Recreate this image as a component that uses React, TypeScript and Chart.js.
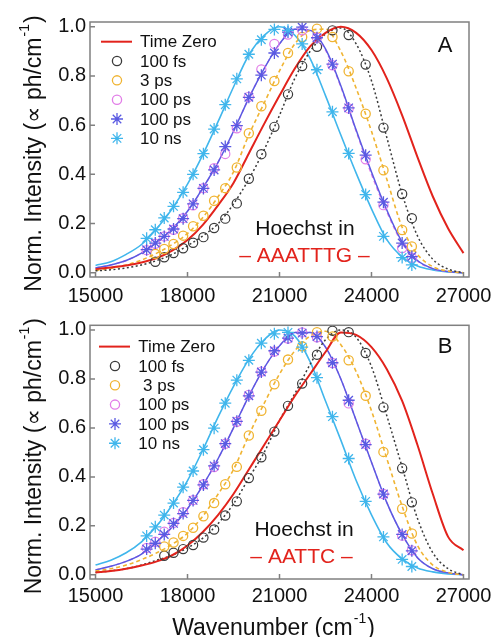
import React, { useEffect, useRef } from "react";
import { Chart, registerables } from "chart.js";

Chart.register(...registerables);

const FONT = "'Liberation Sans', Arial, 'DejaVu Sans', sans-serif";

// ---------- shared axes / categories ----------
const markerWavenumbers = [16667, 16949, 17241, 17544, 17857, 18182, 18519, 18868, 19231, 19608, 20000, 20408, 20833, 21277, 21739, 22222, 22727, 23256, 23810, 24390, 25000, 25316];
const fitWavenumbers = [15000, 15500, 16000, 16500, 17000, 17500, 18000, 18500, 19000, 19500, 20000, 20500, 21000, 21500, 22000, 22500, 23000, 23500, 24000, 24500, 25000, 25500, 26000, 26500, 27000];
const xTickValues = [15000, 18000, 21000, 24000, 27000];
const yTickValues = [0, 0.2, 0.4, 0.6, 0.8, 1.0];

const legendLabelsA = ["Time Zero", "100 fs", "3 ps", "100 ps", "100 ps", "10 ns"];
const legendLabelsB = ["Time Zero", "100 fs", " 3 ps", "100 ps", "100 ps", "10 ns"];

// ---------- panel A ----------
const timeZeroA = [0.015, 0.022, 0.03, 0.042, 0.06, 0.09, 0.133, 0.195, 0.275, 0.365, 0.485, 0.605, 0.72, 0.83, 0.92, 0.975, 1.0, 0.975, 0.905, 0.79, 0.64, 0.47, 0.31, 0.18, 0.08];
const fit100fsA = [0.008, 0.012, 0.02, 0.032, 0.05, 0.075, 0.11, 0.15, 0.2, 0.28, 0.38, 0.5, 0.64, 0.79, 0.9, 0.97, 0.995, 0.93, 0.78, 0.55, 0.32, 0.15, 0.055, 0.015, 0];
const fit3psA = [0.01, 0.018, 0.032, 0.052, 0.08, 0.115, 0.16, 0.225, 0.31, 0.41, 0.56, 0.69, 0.82, 0.93, 0.985, 0.99, 0.9, 0.75, 0.575, 0.38, 0.185, 0.075, 0.025, 0.007, 0];
const fit100psPinkA = [0.02, 0.032, 0.05, 0.08, 0.124, 0.177, 0.25, 0.343, 0.45, 0.573, 0.71, 0.83, 0.93, 0.99, 0.983, 0.905, 0.755, 0.575, 0.4, 0.248, 0.12, 0.048, 0.016, 0.005, 0];
const fit100psBlueA = [0.02, 0.032, 0.05, 0.08, 0.125, 0.178, 0.25, 0.345, 0.45, 0.575, 0.71, 0.83, 0.93, 0.99, 0.985, 0.91, 0.76, 0.58, 0.41, 0.255, 0.125, 0.05, 0.017, 0.005, 0];
const fit10nsA = [0.03, 0.045, 0.075, 0.115, 0.18, 0.26, 0.36, 0.48, 0.615, 0.755, 0.885, 0.965, 1.0, 0.965, 0.87, 0.72, 0.56, 0.405, 0.26, 0.135, 0.065, 0.028, 0.012, 0.004, 0];

const pts100fsA = [null, 0.045, 0.063, 0.08, 0.1, 0.122, 0.145, 0.182, 0.22, 0.282, 0.382, 0.482, 0.593, 0.725, 0.84, 0.918, 0.985, 0.966, 0.846, 0.59, 0.32, 0.222];
const pts3psA = [null, 0.077, 0.097, 0.117, 0.151, 0.189, 0.232, 0.293, 0.344, 0.428, 0.567, 0.677, 0.779, 0.893, 0.958, 0.992, 0.958, 0.819, 0.646, 0.417, 0.174, 0.107];
const pts100psPinkA = [0.092, 0.118, 0.148, 0.175, 0.222, 0.274, 0.344, 0.425, 0.483, 0.587, 0.715, 0.826, 0.93, 0.968, 0.985, 0.955, 0.843, 0.668, 0.461, 0.275, 0.101, 0.061];
const pts100psBlueA = [0.094, 0.121, 0.148, 0.178, 0.22, 0.28, 0.343, 0.418, 0.513, 0.598, 0.713, 0.803, 0.893, 0.978, 0.998, 0.955, 0.848, 0.67, 0.478, 0.287, 0.121, 0.066];
const pts10nsA = [0.14, 0.175, 0.223, 0.27, 0.327, 0.4, 0.484, 0.584, 0.683, 0.788, 0.888, 0.947, 0.989, 0.985, 0.93, 0.825, 0.654, 0.485, 0.318, 0.148, 0.062, 0.032];

// ---------- panel B ----------
const timeZeroB = [0.01, 0.016, 0.025, 0.038, 0.055, 0.08, 0.12, 0.175, 0.245, 0.33, 0.43, 0.53, 0.63, 0.73, 0.82, 0.91, 0.99, 0.98, 0.93, 0.84, 0.71, 0.53, 0.33, 0.155, 0.1];
const fit100fsB = [0.01, 0.016, 0.025, 0.04, 0.06, 0.08, 0.11, 0.15, 0.21, 0.29, 0.395, 0.5, 0.63, 0.74, 0.86, 0.96, 1.0, 0.97, 0.85, 0.65, 0.44, 0.23, 0.09, 0.025, 0];
const fit3psB = [0.015, 0.025, 0.04, 0.062, 0.09, 0.125, 0.17, 0.24, 0.33, 0.43, 0.57, 0.7, 0.82, 0.915, 0.975, 0.995, 0.94, 0.83, 0.67, 0.475, 0.28, 0.12, 0.04, 0.01, 0];
const fit100psPinkB = [0.02, 0.035, 0.055, 0.085, 0.135, 0.195, 0.27, 0.365, 0.475, 0.6, 0.73, 0.845, 0.935, 0.99, 0.99, 0.93, 0.8, 0.63, 0.46, 0.295, 0.165, 0.07, 0.025, 0.008, 0];
const fit100psBlueB = [0.02, 0.035, 0.055, 0.085, 0.135, 0.195, 0.27, 0.365, 0.475, 0.6, 0.73, 0.845, 0.935, 0.99, 0.99, 0.93, 0.8, 0.63, 0.46, 0.295, 0.165, 0.07, 0.025, 0.008, 0];
const fit10nsB = [0.04, 0.06, 0.09, 0.135, 0.2, 0.285, 0.385, 0.51, 0.645, 0.77, 0.88, 0.96, 1.0, 0.975, 0.87, 0.71, 0.55, 0.385, 0.245, 0.13, 0.065, 0.028, 0.012, 0.004, 0];

const pts100fsB = [null, null, 0.078, 0.09, 0.105, 0.122, 0.152, 0.185, 0.242, 0.3, 0.395, 0.48, 0.585, 0.69, 0.781, 0.899, 0.997, 0.991, 0.906, 0.684, 0.435, 0.296];
const pts3psB = [null, null, 0.116, 0.132, 0.159, 0.192, 0.239, 0.293, 0.37, 0.441, 0.569, 0.67, 0.778, 0.879, 0.933, 0.991, 0.973, 0.876, 0.731, 0.502, 0.27, 0.169];
const pts100psPinkB = [0.11, 0.135, 0.176, 0.212, 0.256, 0.305, 0.37, 0.44, 0.535, 0.625, 0.735, 0.83, 0.912, 0.965, 0.99, 0.97, 0.865, 0.7, 0.535, 0.33, 0.16, 0.1];
const pts100psBlueB = [0.105, 0.129, 0.165, 0.21, 0.25, 0.304, 0.367, 0.445, 0.536, 0.627, 0.731, 0.828, 0.915, 0.967, 0.987, 0.973, 0.866, 0.713, 0.532, 0.33, 0.165, 0.098];
const pts10nsB = [0.159, 0.196, 0.244, 0.293, 0.358, 0.424, 0.511, 0.599, 0.701, 0.795, 0.876, 0.946, 0.984, 0.99, 0.93, 0.805, 0.646, 0.475, 0.3, 0.155, 0.063, 0.034];

// ---------- styles ----------
const RED = "#e2231c";
const BLACK = "#3a3a3a";
const ORANGE = "#f0b432";
const PINK = "#e27ee8";
const BLUE = "#5a5ae2";
const CYAN = "#40b6ec";
const FRAME = "#808080";
const TEXT = "#111111";

const X_MIN = 14820;
const X_MAX = 27180;
const Y_MIN = -0.017;
const Y_MAX = 1.019;

function toPoints(xs: number[], ys: (number | null)[]) {
  const out: { x: number; y: number }[] = [];
  xs.forEach((x, i) => {
    const y = ys[i];
    if (y !== null && y !== undefined) out.push({ x, y });
  });
  return out;
}

function lineDs(ys: number[], color: string, width: number, dash: number[]) {
  return {
    data: toPoints(fitWavenumbers, ys),
    borderColor: color,
    borderWidth: width,
    borderDash: dash,
    pointRadius: 0,
    fill: false,
    cubicInterpolationMode: "monotone",
  };
}

function markerDs(ys: (number | null)[], color: string, style: string, radius: number, width: number) {
  return {
    data: toPoints(markerWavenumbers, ys),
    showLine: false,
    pointStyle: style,
    pointRadius: radius,
    pointBorderColor: color,
    pointBackgroundColor: "rgba(0,0,0,0)",
    pointBorderWidth: width,
    borderColor: color,
  };
}

type Annot = { text: string; x: number; y: number; color: string; size: number };

type PanelSpec = {
  height: number;
  padTop: number;
  xAxisHeight: number;
  xTickPad: number;
  legend: string[];
  legendRow0: number;
  legendSymX: number;
  legendTextX: number;
  annotations: Annot[];
  xTitle: boolean;
  series: {
    timeZero: number[];
    fit100fs: number[];
    fit3ps: number[];
    fitPink: number[];
    fitBlue: number[];
    fit10ns: number[];
    p100fs: (number | null)[];
    p3ps: (number | null)[];
    pPink: (number | null)[];
    pBlue: (number | null)[];
    p10ns: (number | null)[];
  };
};

function drawStar(ctx: CanvasRenderingContext2D, x: number, y: number, r: number) {
  ctx.beginPath();
  for (let k = 0; k < 4; k++) {
    const a = (k * Math.PI) / 4;
    ctx.moveTo(x - Math.cos(a) * r, y - Math.sin(a) * r);
    ctx.lineTo(x + Math.cos(a) * r, y + Math.sin(a) * r);
  }
  ctx.stroke();
}

function drawSupTitle(
  ctx: CanvasRenderingContext2D,
  cx: number,
  cy: number,
  rotate: boolean,
  main: string,
  sup: string,
  tail: string,
  size: number,
  supSize: number,
  raise: number
) {
  ctx.save();
  ctx.translate(cx, cy);
  if (rotate) ctx.rotate(-Math.PI / 2);
  ctx.fillStyle = TEXT;
  ctx.textBaseline = "alphabetic";
  ctx.textAlign = "left";
  const gap = 1;
  ctx.font = `${size}px ${FONT}`;
  const w1 = ctx.measureText(main).width;
  const w3 = ctx.measureText(tail).width;
  ctx.font = `${supSize}px ${FONT}`;
  const w2 = ctx.measureText(sup).width;
  let x = -(w1 + w2 + w3 + 2 * gap) / 2;
  ctx.font = `${size}px ${FONT}`;
  ctx.fillText(main, x, 0);
  x += w1 + gap;
  ctx.font = `${supSize}px ${FONT}`;
  ctx.fillText(sup, x, -raise);
  x += w2 + gap;
  ctx.font = `${size}px ${FONT}`;
  ctx.fillText(tail, x, 0);
  ctx.restore();
}

function makeChart(canvas: HTMLCanvasElement, spec: PanelSpec) {
  const s = spec.series;
  const datasets: any[] = [
    markerDs(s.p10ns, CYAN, "star", 6, 1.3),
    markerDs(s.pBlue, BLUE, "star", 6, 1.3),
    markerDs(s.pPink, PINK, "circle", 4.6, 1.2),
    markerDs(s.p3ps, ORANGE, "circle", 4.6, 1.3),
    markerDs(s.p100fs, BLACK, "circle", 4.6, 1.2),
    { ...lineDs(s.timeZero, RED, 2, []) },
    lineDs(s.fit100fs, BLACK, 1.5, [2, 2.5]),
    lineDs(s.fit3ps, ORANGE, 1.6, [4, 3]),
    lineDs(s.fitBlue, BLUE, 1.5, []),
    lineDs(s.fitPink, PINK, 1.4, [4, 3]),
    lineDs(s.fit10ns, CYAN, 1.6, []),
  ];

  const decorPlugin = {
    id: "decor",
    afterDatasetsDraw(chart: any) {
      const { ctx, chartArea: a, scales } = chart;
      ctx.save();
      ctx.strokeStyle = FRAME;
      ctx.lineWidth = 1.5;
      ctx.strokeRect(a.left, a.top, a.right - a.left, a.bottom - a.top);
      ctx.beginPath();
      xTickValues.forEach((v) => {
        const px = scales.x.getPixelForValue(v);
        ctx.moveTo(px, a.bottom);
        ctx.lineTo(px, a.bottom - 5);
      });
      yTickValues.forEach((v) => {
        const py = scales.y.getPixelForValue(v);
        ctx.moveTo(a.left, py);
        ctx.lineTo(a.left + 5, py);
      });
      ctx.stroke();
      ctx.restore();
    },
    afterDraw(chart: any) {
      const { ctx, chartArea: a, scales } = chart;
      ctx.save();
      // legend
      const symColors = [RED, BLACK, ORANGE, PINK, BLUE, CYAN];
      spec.legend.forEach((label, i) => {
        const y = a.top + spec.legendRow0 + i * 19.33;
        const sx = a.left + spec.legendSymX;
        ctx.strokeStyle = symColors[i];
        if (i === 0) {
          ctx.lineWidth = 2;
          ctx.beginPath();
          ctx.moveTo(sx - 16, y);
          ctx.lineTo(sx + 15, y);
          ctx.stroke();
        } else if (i <= 3) {
          ctx.lineWidth = 1.3;
          ctx.beginPath();
          ctx.arc(sx, y, 4.6, 0, Math.PI * 2);
          ctx.stroke();
        } else {
          ctx.lineWidth = 1.3;
          drawStar(ctx, sx, y, 6);
        }
        ctx.fillStyle = TEXT;
        ctx.font = `17px ${FONT}`;
        ctx.textAlign = "left";
        ctx.textBaseline = "middle";
        ctx.fillText(label, a.left + spec.legendTextX, y + 1);
      });
      // annotations in data coordinates
      spec.annotations.forEach((t) => {
        ctx.fillStyle = t.color;
        ctx.font = `${t.size}px ${FONT}`;
        ctx.textAlign = "center";
        ctx.textBaseline = "alphabetic";
        ctx.fillText(t.text, scales.x.getPixelForValue(t.x), scales.y.getPixelForValue(t.y));
      });
      // axis titles
      const cy = (a.top + a.bottom) / 2 + 4;
      drawSupTitle(ctx, 41, cy, true, "Norm. Intensity (\u221D ph/cm", "-1", ")", 23, 14, 12);
      if (spec.xTitle) {
        drawSupTitle(ctx, (a.left + a.right) / 2 - 6, a.bottom + 56, false, "Wavenumber (cm", "-1", ")", 23, 14, 12);
      }
      ctx.restore();
    },
  };

  return new Chart(canvas, {
    type: "line",
    data: { datasets },
    options: {
      animation: false,
      responsive: false,
      devicePixelRatio: 1,
      events: [],
      layout: { padding: { top: spec.padTop, right: 28, left: 0, bottom: 0 } },
      plugins: { legend: { display: false }, tooltip: { enabled: false } },
      scales: {
        x: {
          type: "linear",
          min: X_MIN,
          max: X_MAX,
          grid: { display: false, drawTicks: false },
          border: { display: false },
          afterBuildTicks: (scale: any) => {
            scale.ticks = xTickValues.map((v) => ({ value: v }));
          },
          afterFit: (scale: any) => {
            scale.height = spec.xAxisHeight;
            scale.paddingLeft = 0;
            scale.paddingRight = 0;
          },
          ticks: {
            autoSkip: false,
            maxRotation: 0,
            padding: spec.xTickPad,
            color: TEXT,
            font: { family: FONT, size: 20 },
            callback: (v: any) => String(v),
          },
        },
        y: {
          type: "linear",
          min: Y_MIN,
          max: Y_MAX,
          grid: { display: false, drawTicks: false },
          border: { display: false },
          afterBuildTicks: (scale: any) => {
            scale.ticks = yTickValues.map((v) => ({ value: v }));
          },
          afterFit: (scale: any) => {
            scale.width = 90;
            scale.paddingTop = 0;
            scale.paddingBottom = 0;
          },
          ticks: {
            autoSkip: false,
            padding: 4,
            color: TEXT,
            font: { family: FONT, size: 20 },
            callback: (v: any) => Number(v).toFixed(1),
          },
        },
      },
    } as any,
    plugins: [decorPlugin],
  } as any);
}

const panelA: PanelSpec = {
  height: 318,
  padTop: 22,
  xAxisHeight: 41,
  xTickPad: 7,
  legend: legendLabelsA,
  legendRow0: 19.7,
  legendSymX: 27,
  legendTextX: 50,
  xTitle: false,
  annotations: [
    { text: "Hoechst in", x: 21830, y: 0.154, color: TEXT, size: 21 },
    { text: "\u2013 AAATTTG \u2013", x: 21815, y: 0.045, color: RED, size: 21 },
    { text: "A", x: 26398, y: 0.898, color: TEXT, size: 22 },
  ],
  series: {
    timeZero: timeZeroA,
    fit100fs: fit100fsA,
    fit3ps: fit3psA,
    fitPink: fit100psPinkA,
    fitBlue: fit100psBlueA,
    fit10ns: fit10nsA,
    p100fs: pts100fsA,
    p3ps: pts3psA,
    pPink: pts100psPinkA,
    pBlue: pts100psBlueA,
    p10ns: pts10nsA,
  },
};

const panelB: PanelSpec = {
  height: 319,
  padTop: 4,
  xAxisHeight: 58,
  xTickPad: 5,
  legend: legendLabelsB,
  legendRow0: 21.3,
  legendSymX: 25,
  legendTextX: 48.3,
  xTitle: true,
  annotations: [
    { text: "Hoechst in", x: 21800, y: 0.16, color: TEXT, size: 21 },
    { text: "\u2013 AATTC \u2013", x: 21718, y: 0.049, color: RED, size: 21 },
    { text: "B", x: 26398, y: 0.906, color: TEXT, size: 22 },
  ],
  series: {
    timeZero: timeZeroB,
    fit100fs: fit100fsB,
    fit3ps: fit3psB,
    fitPink: fit100psPinkB,
    fitBlue: fit100psBlueB,
    fit10ns: fit10nsB,
    p100fs: pts100fsB,
    p3ps: pts3psB,
    pPink: pts100psPinkB,
    pBlue: pts100psBlueB,
    p10ns: pts10nsB,
  },
};

export default function App() {
  const refA = useRef<HTMLCanvasElement | null>(null);
  const refB = useRef<HTMLCanvasElement | null>(null);

  useEffect(() => {
    const charts: Chart[] = [];
    if (refA.current) charts.push(makeChart(refA.current, panelA));
    if (refB.current) charts.push(makeChart(refB.current, panelB));
    return () => charts.forEach((c) => c.destroy());
  }, []);

  return (
    <div style={{ position: "absolute", left: 0, top: 0, width: 497, height: 637, background: "#ffffff", overflow: "hidden" }}>
      <canvas ref={refA} width={497} height={318} style={{ position: "absolute", left: 0, top: 0, display: "block" }} />
      <canvas ref={refB} width={497} height={319} style={{ position: "absolute", left: 0, top: 318, display: "block" }} />
    </div>
  );
}
